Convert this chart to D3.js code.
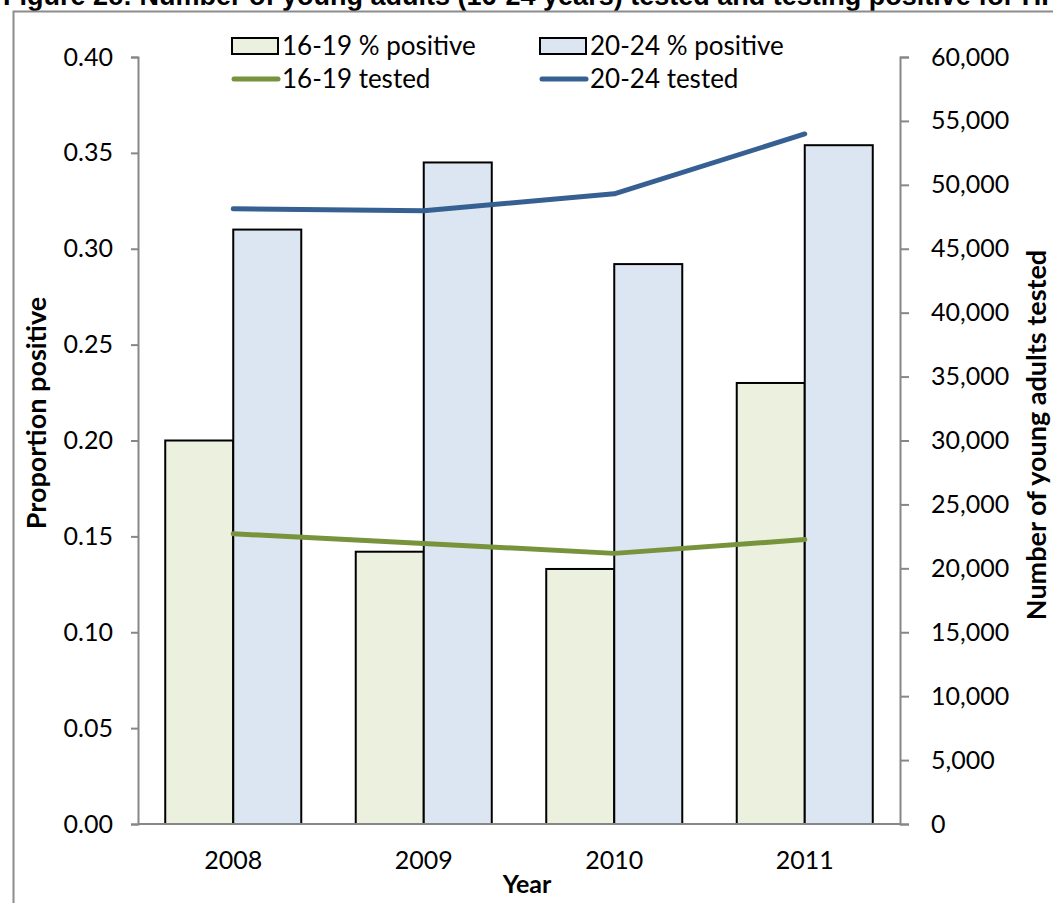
<!DOCTYPE html>
<html>
<head>
<meta charset="utf-8">
<script src="https://cdn.jsdelivr.net/npm/d3@7"></script>
<style>
  html, body { margin: 0; padding: 0; background: #fff; }
  svg { display: block; }
</style>
</head>
<body>
<svg id="chart" width="1053" height="903"></svg>
<script>
// Young adults tested for HIV, and proportion testing positive, by year
const years = ["2008", "2009", "2010", "2011"];
const groups = ["16-19", "20-24"];
const positive1619 = [0.200, 0.142, 0.133, 0.230];
const positive2024 = [0.310, 0.345, 0.292, 0.354];
const tested1619 = [22700, 21950, 21170, 22250];
const tested2024 = [48120, 47970, 49300, 53980];
const leftTicks = [0, 0.05, 0.10, 0.15, 0.20, 0.25, 0.30, 0.35, 0.40];
const rightTicks = [0, 5000, 10000, 15000, 20000, 25000, 30000, 35000, 40000, 45000, 50000, 55000, 60000];

const barFill = { "16-19": "#EBF1DE", "20-24": "#DCE6F2" };
const lineColor = { "16-19": "#77933C", "20-24": "#376092" };
const axisGrey = "#878787";
const font = "Lato, 'Open Sans', sans-serif";

const svg = d3.select("#chart");

// Title (runs off the top edge of the page)
svg.append("text")
  .attr("x", 3).attr("y", 5)
  .attr("font-family", "'Liberation Sans', Arial, sans-serif")
  .attr("font-weight", "bold")
  .attr("font-size", 27)
  .attr("fill", "#000")
  .text("Figure 2c: Number of young adults (16-24 years) tested and testing positive for HIV");

// Chart frame
svg.append("rect")
  .attr("x", 13.5).attr("y", 11.5)
  .attr("width", 1100).attr("height", 1000)
  .attr("fill", "none")
  .attr("stroke", "#8c8c8c")
  .attr("stroke-width", 2);

const plot = { left: 138, right: 900, top: 57, bottom: 824 };

const x0 = d3.scaleBand()
  .domain(years)
  .range([plot.left, plot.right])
  .paddingInner(0.286)
  .paddingOuter(0.143);

const x1 = d3.scaleBand()
  .domain(groups)
  .range([0, x0.bandwidth()]);

const yLeft = d3.scaleLinear().domain([0, 0.4]).range([plot.bottom, plot.top]);
const yRight = d3.scaleLinear().domain([0, 60000]).range([plot.bottom, plot.top]);

// Bars
const barRows = years.map((yr, i) => ({
  year: yr,
  values: [
    { group: "16-19", value: positive1619[i] },
    { group: "20-24", value: positive2024[i] }
  ]
}));

const barG = svg.append("g");
barG.selectAll("g.year")
  .data(barRows)
  .join("g")
  .attr("class", "year")
  .attr("transform", d => `translate(${x0(d.year)},0)`)
  .selectAll("rect")
  .data(d => d.values)
  .join("rect")
  .attr("x", d => x1(d.group))
  .attr("y", d => yLeft(d.value))
  .attr("width", x1.bandwidth())
  .attr("height", d => yLeft(0) - yLeft(d.value))
  .attr("fill", d => barFill[d.group])
  .attr("stroke", "#000")
  .attr("stroke-width", 2);

// Axes
const leftAxis = d3.axisLeft(yLeft)
  .tickValues(leftTicks)
  .tickFormat(d3.format(".2f"))
  .tickSize(7)
  .tickPadding(18);

const rightAxis = d3.axisRight(yRight)
  .tickValues(rightTicks)
  .tickFormat(d3.format(","))
  .tickSize(9)
  .tickPadding(22);

const bottomAxis = d3.axisBottom(x0).tickSize(0).tickPadding(27);

function styleAxis(g) {
  g.selectAll("path, line").attr("stroke", axisGrey).attr("stroke-width", 2);
  g.selectAll("text")
    .attr("font-family", font)
    .attr("font-size", 25)
    .attr("fill", "#000");
}

svg.append("g")
  .attr("transform", `translate(${plot.left},0)`)
  .call(leftAxis)
  .call(styleAxis);

svg.append("g")
  .attr("transform", `translate(${plot.right},0)`)
  .call(rightAxis)
  .call(styleAxis);

svg.append("g")
  .attr("transform", `translate(0,${plot.bottom})`)
  .call(bottomAxis)
  .call(g => g.select(".domain").attr("d", `M${plot.left},0H${plot.right}`))
  .call(styleAxis);

// Lines for number tested
const lineGen = d3.line()
  .x(d => x0(d.year) + x0.bandwidth() / 2)
  .y(d => yRight(d.value));

const lineSeries = [
  { group: "16-19", values: years.map((yr, i) => ({ year: yr, value: tested1619[i] })) },
  { group: "20-24", values: years.map((yr, i) => ({ year: yr, value: tested2024[i] })) }
];

svg.append("g").selectAll("path")
  .data(lineSeries)
  .join("path")
  .attr("d", d => lineGen(d.values))
  .attr("fill", "none")
  .attr("stroke", d => lineColor[d.group])
  .attr("stroke-width", 5)
  .attr("stroke-linecap", "round")
  .attr("stroke-linejoin", "round");

// Axis titles
svg.append("text")
  .attr("transform", "translate(46,413) rotate(-90)")
  .attr("text-anchor", "middle")
  .attr("font-family", font)
  .attr("font-weight", "bold")
  .attr("font-size", 27)
  .text("Proportion positive");

svg.append("text")
  .attr("transform", "translate(1046,435) rotate(-90)")
  .attr("text-anchor", "middle")
  .attr("font-family", font)
  .attr("font-weight", "bold")
  .attr("font-size", 27)
  .text("Number of young adults tested");

svg.append("text")
  .attr("x", 527).attr("y", 893)
  .attr("text-anchor", "middle")
  .attr("font-family", font)
  .attr("font-weight", "bold")
  .attr("font-size", 25)
  .text("Year");

// Legend
const legendItems = [
  { label: "16-19 % positive", kind: "bar", group: "16-19", x: 232, y: 46 },
  { label: "20-24 % positive", kind: "bar", group: "20-24", x: 540, y: 46 },
  { label: "16-19 tested", kind: "line", group: "16-19", x: 232, y: 79 },
  { label: "20-24 tested", kind: "line", group: "20-24", x: 540, y: 79 }
];

const legend = svg.append("g");
legendItems.forEach(item => {
  const g = legend.append("g").attr("transform", `translate(${item.x},${item.y})`);
  if (item.kind === "bar") {
    g.append("rect")
      .attr("x", 0).attr("y", -8)
      .attr("width", 46).attr("height", 16)
      .attr("fill", barFill[item.group])
      .attr("stroke", "#000")
      .attr("stroke-width", 2);
  } else {
    g.append("line")
      .attr("x1", 2).attr("x2", 46)
      .attr("y1", 0).attr("y2", 0)
      .attr("stroke", lineColor[item.group])
      .attr("stroke-width", 5)
      .attr("stroke-linecap", "round");
  }
  g.append("text")
    .attr("x", 50).attr("y", 0)
    .attr("dy", "0.35em")
    .attr("font-family", font)
    .attr("font-size", 26)
    .text(item.label);
});
</script>
</body>
</html>
